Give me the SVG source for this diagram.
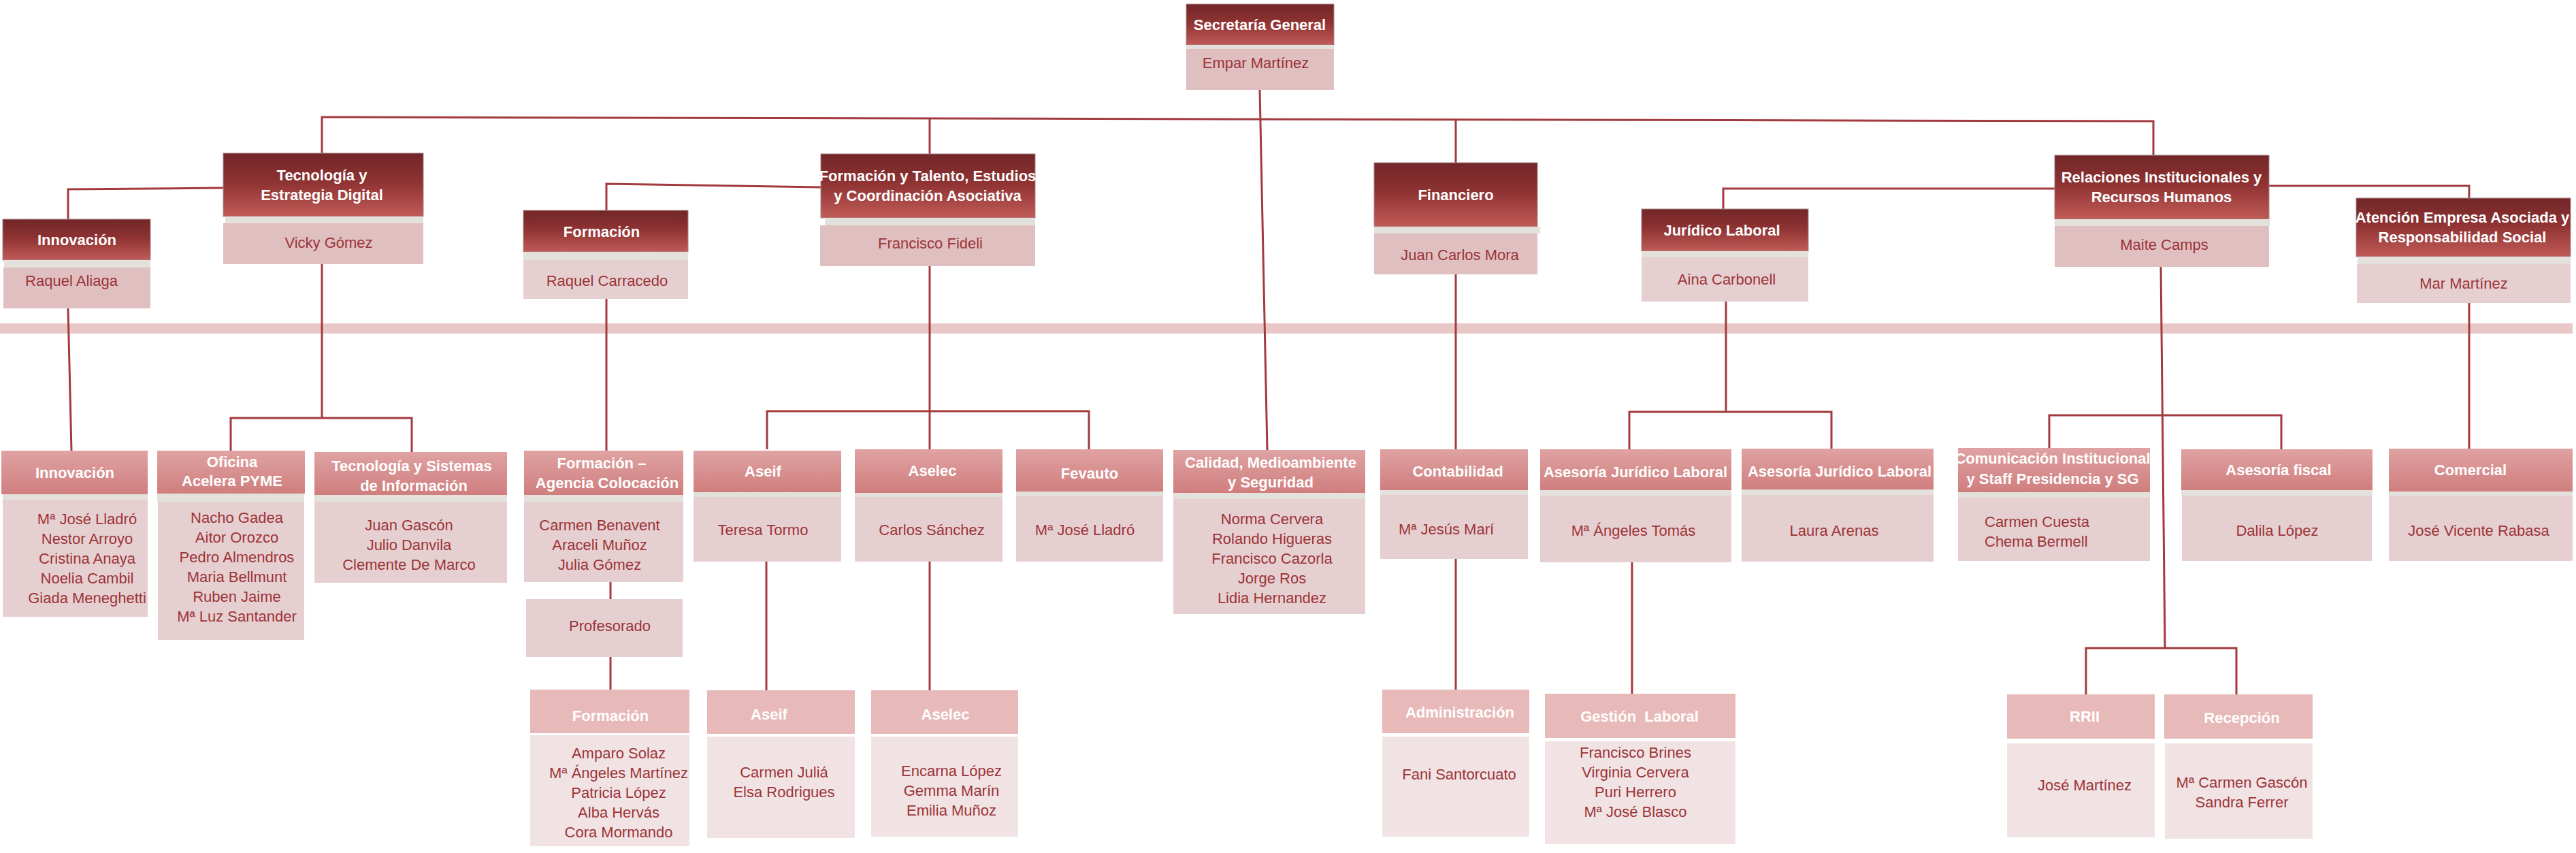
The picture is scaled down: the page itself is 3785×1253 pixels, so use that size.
<svg xmlns="http://www.w3.org/2000/svg" width="3785" height="1253" viewBox="0 0 3785 1253">
<defs>
<linearGradient id="g1" x1="0" y1="0" x2="0" y2="1"><stop offset="0" stop-color="#722628"/><stop offset="0.45" stop-color="#8e3232"/><stop offset="1" stop-color="#c05b57"/></linearGradient>
<linearGradient id="g2" x1="0" y1="0" x2="0" y2="1"><stop offset="0" stop-color="#dfa2a2"/><stop offset="1" stop-color="#d07e7e"/></linearGradient>
<style>
text{font-family:"Liberation Sans Narrow","Arial Narrow","Liberation Sans",sans-serif;font-size:22px;text-anchor:middle}
.h1{fill:url(#g1);stroke:#a9898a;stroke-width:1}
.h2{fill:url(#g2)}
.h3{fill:#e8b9b9}
.st{fill:#e4e1dc}
.b1{fill:#dfbfc0}
.b2{fill:#e6cfd0}
.b3{fill:#f1e3e4}
.th{fill:#fff;font-weight:bold}
.tb{fill:#9c3438}
.c{fill:none;stroke:#a33a3e;stroke-width:3}
</style>
</defs>
<rect width="3785" height="1253" fill="#fff"/>
<rect x="0" y="475" width="3780" height="15" fill="#e9c7c7"/>
<g id="connectors">
<path class="c" d="M473 225V172L3164 178V228"/>
<path class="c" d="M1366 174V226M2139 176V239M1851 132L1862 661"/>
<path class="c" d="M328 276L100 278V322M1206 275L891 270V309M3019 277H2532V307M3334 273H3628V291"/>
<path class="c" d="M473 388V614M339 662V614H605V664M100 453L105 662M891 439V662M897 855V880M897 965V1013"/>
<path class="c" d="M1366 391V660M1127 660V604H1600V660M1366 825V1014M1126 825V1014"/>
<path class="c" d="M2139 403V660M2139 821V1013"/>
<path class="c" d="M2536 443V605M2394 660V605H2691V659M2398 826V1019"/>
<path class="c" d="M3175 392L3181 952M3011 658V610H3352V660M3065 1020V952H3286V1020M3628 445V659"/>
</g>
<g id="sg"><rect class="h1" x="1743" y="6" width="217" height="60"/><rect class="st" x="1743" y="66" width="217" height="6"/><rect class="b1" x="1743" y="72" width="217" height="60"/><text class="th" x="1851" y="44">Secretaría General</text><text class="tb" x="1845" y="100">Empar Martínez</text></g>
<g id="ted"><rect class="h1" x="328" y="225" width="294" height="93"/><rect class="st" x="331" y="318" width="291" height="10"/><rect class="b1" x="328" y="328" width="294" height="60"/><text class="th" x="473" y="265">Tecnología y</text><text class="th" x="473" y="294">Estrategia Digital</text><text class="tb" x="483" y="364">Vicky Gómez</text></g>
<g id="inn"><rect class="h1" x="4" y="322" width="217" height="60"/><rect class="st" x="6" y="382" width="215" height="11"/><rect class="b1" x="5" y="393" width="216" height="60"/><text class="th" x="113" y="360">Innovación</text><text class="tb" x="105" y="420">Raquel Aliaga</text></g>
<g id="for"><rect class="h1" x="769" y="309" width="242" height="61"/><rect class="st" x="769" y="370" width="242" height="12"/><rect class="b2" x="769" y="382" width="242" height="57"/><text class="th" x="884" y="348">Formación</text><text class="tb" x="892" y="420">Raquel Carracedo</text></g>
<g id="fte"><rect class="h1" x="1206" y="226" width="315" height="94"/><rect class="st" x="1212" y="320" width="309" height="11"/><rect class="b1" x="1205" y="331" width="316" height="60"/><text class="th" x="1363" y="266">Formación y Talento, Estudios</text><text class="th" x="1363" y="295">y Coordinación Asociativa</text><text class="tb" x="1367" y="365">Francisco Fideli</text></g>
<g id="fin"><rect class="h1" x="2019" y="239" width="240" height="94"/><rect class="st" x="2019" y="333" width="244" height="10"/><rect class="b1" x="2019" y="343" width="240" height="60"/><text class="th" x="2139" y="294">Financiero</text><text class="tb" x="2145" y="382">Juan Carlos Mora</text></g>
<g id="jur"><rect class="h1" x="2412" y="307" width="245" height="62"/><rect class="st" x="2412" y="369" width="245" height="9"/><rect class="b2" x="2412" y="378" width="245" height="65"/><text class="th" x="2530" y="346">Jurídico Laboral</text><text class="tb" x="2537" y="418">Aina Carbonell</text></g>
<g id="rel"><rect class="h1" x="3019" y="228" width="315" height="94"/><rect class="st" x="3019" y="322" width="316" height="10"/><rect class="b1" x="3019" y="332" width="315" height="60"/><text class="th" x="3176" y="268">Relaciones Institucionales y</text><text class="th" x="3176" y="297">Recursos Humanos</text><text class="tb" x="3180" y="367">Maite Camps</text></g>
<g id="ate"><rect class="h1" x="3462" y="291" width="315" height="86"/><rect class="st" x="3464" y="377" width="313" height="11"/><rect class="b2" x="3463" y="388" width="314" height="57"/><text class="th" x="3618" y="327">Atención Empresa Asociada y</text><text class="th" x="3618" y="356">Responsabilidad Social</text><text class="tb" x="3620" y="424">Mar Martínez</text></g>
<g id="inn2"><rect class="h2" x="2" y="662" width="215" height="64"/><rect class="st" x="4" y="726" width="213" height="8"/><rect class="b2" x="4" y="734" width="213" height="172"/><text class="th" x="110" y="702">Innovación</text><text class="tb" x="128" y="770">Mª José Lladró</text><text class="tb" x="128" y="799">Nestor Arroyo</text><text class="tb" x="128" y="828">Cristina Anaya</text><text class="tb" x="128" y="857">Noelia Cambil</text><text class="tb" x="128" y="886">Giada Meneghetti</text></g>
<g id="ofi"><rect class="h2" x="231" y="662" width="217" height="63"/><rect class="st" x="231" y="725" width="216" height="12"/><rect class="b2" x="232" y="737" width="215" height="203"/><text class="th" x="341" y="686">Oficina</text><text class="th" x="341" y="714">Acelera PYME</text><text class="tb" x="348" y="768">Nacho Gadea</text><text class="tb" x="348" y="797">Aitor Orozco</text><text class="tb" x="348" y="826">Pedro Almendros</text><text class="tb" x="348" y="855">Maria Bellmunt</text><text class="tb" x="348" y="884">Ruben Jaime</text><text class="tb" x="348" y="913">Mª Luz Santander</text></g>
<g id="tsi"><rect class="h2" x="462" y="664" width="283" height="63"/><rect class="st" x="462" y="727" width="283" height="10"/><rect class="b2" x="462" y="737" width="283" height="119"/><text class="th" x="605" y="692">Tecnología y Sistemas</text><text class="th" x="608" y="721">de Información</text><text class="tb" x="601" y="779">Juan Gascón</text><text class="tb" x="601" y="808">Julio Danvila</text><text class="tb" x="601" y="837">Clemente De Marco</text></g>
<g id="fac"><rect class="h2" x="770" y="662" width="234" height="65"/><rect class="st" x="770" y="727" width="234" height="10"/><rect class="b2" x="770" y="737" width="234" height="118"/><text class="th" x="884" y="688">Formación –</text><text class="th" x="892" y="717">Agencia Colocación</text><text class="tb" x="881" y="779">Carmen Benavent</text><text class="tb" x="881" y="808">Araceli Muñoz</text><text class="tb" x="881" y="837">Julia Gómez</text></g>
<g id="prof"><rect class="b2" x="773" y="880" width="230" height="85"/><text class="tb" x="896" y="927">Profesorado</text></g>
<g id="for3"><rect class="h3" x="779" y="1013" width="234" height="64"/><rect class="b3" x="779" y="1080" width="234" height="163"/><text class="th" x="897" y="1059">Formación</text><text class="tb" x="909" y="1114">Amparo Solaz</text><text class="tb" x="909" y="1143">Mª Ángeles Martínez</text><text class="tb" x="909" y="1172">Patricia López</text><text class="tb" x="909" y="1201">Alba Hervás</text><text class="tb" x="909" y="1230">Cora Mormando</text></g>
<g id="aseif"><rect class="h2" x="1019" y="662" width="217" height="61"/><rect class="st" x="1019" y="723" width="217" height="7"/><rect class="b2" x="1019" y="730" width="217" height="95"/><text class="th" x="1121" y="700">Aseif</text><text class="tb" x="1121" y="786">Teresa Tormo</text></g>
<g id="aseif2"><rect class="h3" x="1039" y="1014" width="217" height="64"/><rect class="b3" x="1039" y="1082" width="217" height="149"/><text class="th" x="1130" y="1057">Aseif</text><text class="tb" x="1152" y="1142">Carmen Juliá</text><text class="tb" x="1152" y="1171">Elsa Rodrigues</text></g>
<g id="aselec"><rect class="h2" x="1256" y="660" width="217" height="64"/><rect class="st" x="1256" y="724" width="217" height="6"/><rect class="b2" x="1256" y="730" width="217" height="95"/><text class="th" x="1370" y="699">Aselec</text><text class="tb" x="1369" y="786">Carlos Sánchez</text></g>
<g id="aselec2"><rect class="h3" x="1280" y="1014" width="216" height="64"/><rect class="b3" x="1280" y="1082" width="216" height="147"/><text class="th" x="1389" y="1057">Aselec</text><text class="tb" x="1398" y="1140">Encarna López</text><text class="tb" x="1398" y="1169">Gemma Marín</text><text class="tb" x="1398" y="1198">Emilia Muñoz</text></g>
<g id="fev"><rect class="h2" x="1493" y="660" width="216" height="62"/><rect class="st" x="1493" y="722" width="216" height="7"/><rect class="b2" x="1493" y="729" width="216" height="96"/><text class="th" x="1601" y="703">Fevauto</text><text class="tb" x="1594" y="786">Mª José Lladró</text></g>
<g id="cal"><rect class="h2" x="1724" y="661" width="282" height="63"/><rect class="st" x="1724" y="724" width="282" height="9"/><rect class="b2" x="1724" y="733" width="282" height="169"/><text class="th" x="1867" y="687">Calidad, Medioambiente</text><text class="th" x="1867" y="716">y Seguridad</text><text class="tb" x="1869" y="770">Norma Cervera</text><text class="tb" x="1869" y="799">Rolando Higueras</text><text class="tb" x="1869" y="828">Francisco Cazorla</text><text class="tb" x="1869" y="857">Jorge Ros</text><text class="tb" x="1869" y="886">Lidia Hernandez</text></g>
<g id="cont"><rect class="h2" x="2028" y="660" width="217" height="60"/><rect class="st" x="2028" y="720" width="217" height="7"/><rect class="b2" x="2028" y="727" width="217" height="94"/><text class="th" x="2142" y="700">Contabilidad</text><text class="tb" x="2125" y="785">Mª Jesús Marí</text></g>
<g id="adm"><rect class="h3" x="2031" y="1013" width="216" height="64"/><rect class="b3" x="2031" y="1082" width="216" height="147"/><text class="th" x="2145" y="1054">Administración</text><text class="tb" x="2144" y="1145">Fani Santorcuato</text></g>
<g id="ajl1"><rect class="h2" x="2263" y="660" width="281" height="60"/><rect class="st" x="2263" y="720" width="281" height="8"/><rect class="b2" x="2263" y="728" width="281" height="98"/><text class="th" x="2403" y="701">Asesoría Jurídico Laboral</text><text class="tb" x="2400" y="787">Mª Ángeles Tomás</text></g>
<g id="ajl2"><rect class="h2" x="2559" y="659" width="282" height="60"/><rect class="st" x="2559" y="719" width="282" height="8"/><rect class="b2" x="2559" y="727" width="282" height="98"/><text class="th" x="2703" y="700">Asesoría Jurídico Laboral</text><text class="tb" x="2695" y="787">Laura Arenas</text></g>
<g id="com"><rect class="h2" x="2877" y="658" width="282" height="65"/><rect class="st" x="2877" y="723" width="282" height="8"/><rect class="b2" x="2877" y="731" width="282" height="93"/><text class="th" x="3016" y="681">Comunicación Institucional</text><text class="th" x="3016" y="711">y Staff Presidencia y SG</text><text class="tb" x="2916" y="774" style="text-anchor:start">Carmen Cuesta</text><text class="tb" x="2916" y="803" style="text-anchor:start">Chema Bermell</text></g>
<g id="fis"><rect class="h2" x="3205" y="660" width="281" height="60"/><rect class="st" x="3205" y="720" width="281" height="8"/><rect class="b2" x="3206" y="728" width="279" height="96"/><text class="th" x="3348" y="698">Asesoría fiscal</text><text class="tb" x="3346" y="787">Dalila López</text></g>
<g id="cmc"><rect class="h2" x="3510" y="659" width="270" height="63"/><rect class="st" x="3510" y="722" width="270" height="6"/><rect class="b2" x="3510" y="728" width="270" height="96"/><text class="th" x="3630" y="698">Comercial</text><text class="tb" x="3642" y="787">José Vicente Rabasa</text></g>
<g id="ges"><rect class="h3" x="2270" y="1019" width="280" height="65"/><rect class="b3" x="2270" y="1089" width="280" height="151"/><text class="th" x="2409" y="1060" style="white-space:pre">Gestión  Laboral</text><text class="tb" x="2403" y="1113">Francisco Brines</text><text class="tb" x="2403" y="1142">Virginia Cervera</text><text class="tb" x="2403" y="1171">Puri Herrero</text><text class="tb" x="2403" y="1200">Mª José Blasco</text></g>
<g id="rrii"><rect class="h3" x="2949" y="1020" width="217" height="65"/><rect class="b3" x="2949" y="1092" width="217" height="138"/><text class="th" x="3063" y="1060">RRII</text><text class="tb" x="3063" y="1161">José Martínez</text></g>
<g id="rec"><rect class="h3" x="3180" y="1020" width="218" height="65"/><rect class="b3" x="3181" y="1092" width="217" height="140"/><text class="th" x="3294" y="1062">Recepción</text><text class="tb" x="3294" y="1157">Mª Carmen Gascón</text><text class="tb" x="3294" y="1186">Sandra Ferrer</text></g>
</svg>
